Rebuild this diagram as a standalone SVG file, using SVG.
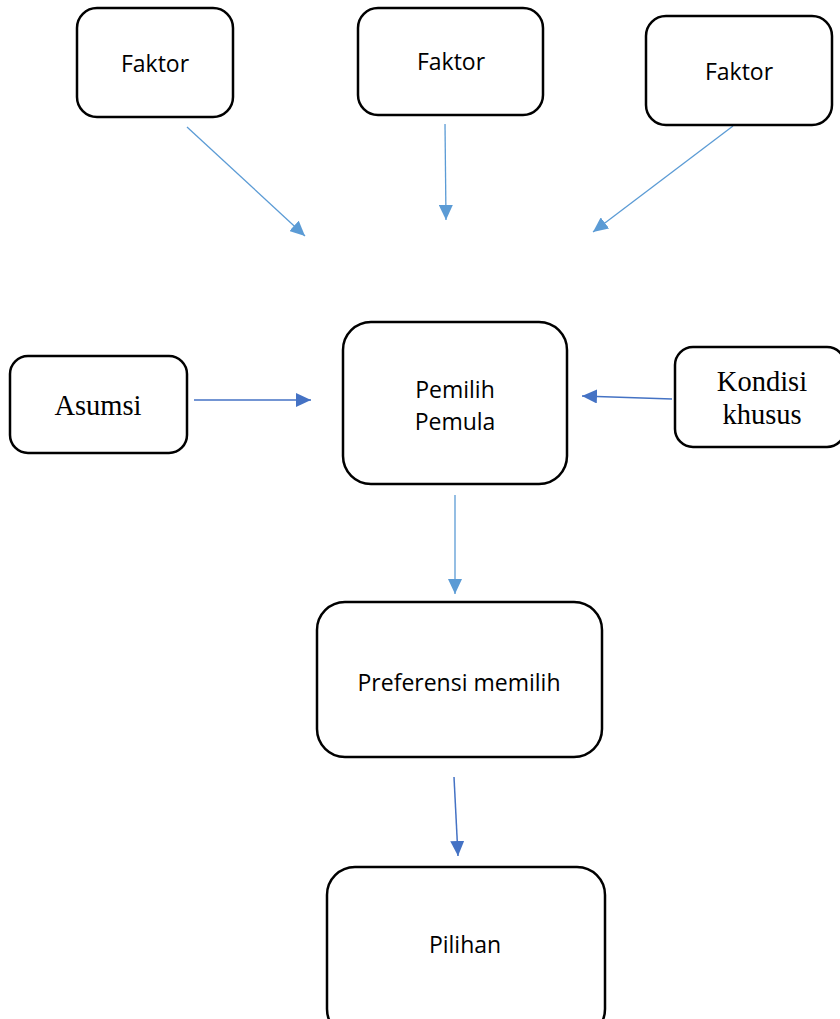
<svg xmlns="http://www.w3.org/2000/svg" width="840" height="1019" viewBox="0 0 840 1019">
<style>
.box{fill:#fff;stroke:#000;stroke-width:2.5}
.s{font-family:"Open Sans","Liberation Sans",Arial,sans-serif;font-size:23px;fill:#000;text-anchor:middle}
.t{font-family:"Liberation Serif","Times New Roman",serif;font-size:28.5px;fill:#000;text-anchor:middle}
.c1{stroke:#5B9BD5;stroke-width:1.3;fill:none}
.c2{stroke:#4472C4;stroke-width:1.5;fill:none}
</style>
<defs>
<marker id="a1" markerUnits="userSpaceOnUse" markerWidth="16" markerHeight="14" refX="15" refY="7" orient="auto"><path d="M0,0 L15,7 L0,14 Z" fill="#5B9BD5"/></marker>
<marker id="a2" markerUnits="userSpaceOnUse" markerWidth="16" markerHeight="14" refX="15" refY="7" orient="auto"><path d="M0,0 L15,7 L0,14 Z" fill="#4472C4"/></marker>
</defs>
<rect width="840" height="1019" fill="#fff"/>
<g id="connectors">
<line class="c1" x1="187" y1="127" x2="305" y2="236" marker-end="url(#a1)"/>
<line class="c1" x1="445" y1="124" x2="446" y2="220" marker-end="url(#a1)"/>
<line class="c1" x1="733" y1="126" x2="593" y2="232" marker-end="url(#a1)"/>
<line class="c2" x1="194" y1="400" x2="311" y2="400" marker-end="url(#a2)"/>
<line class="c2" x1="672" y1="399" x2="582" y2="396" marker-end="url(#a2)"/>
<line class="c1" x1="455" y1="495" x2="455" y2="594" marker-end="url(#a1)"/>
<line class="c2" x1="454" y1="777" x2="458" y2="856" marker-end="url(#a2)"/>
</g>
<g id="faktor1"><rect class="box" x="77" y="8" width="156" height="109" rx="20"/><text class="s" x="155" y="72">Faktor</text></g>
<g id="faktor2"><rect class="box" x="358" y="8" width="185" height="107" rx="20"/><text class="s" x="451" y="70">Faktor</text></g>
<g id="faktor3"><rect class="box" x="646" y="16" width="186" height="109" rx="20"/><text class="s" x="739" y="80">Faktor</text></g>
<g id="asumsi"><rect class="box" x="10" y="356" width="177" height="97" rx="18"/><text class="t" x="98" y="415">Asumsi</text></g>
<g id="pemilih"><rect class="box" x="343" y="322" width="224" height="162" rx="28"/><text class="s" x="455" y="398">Pemilih</text><text class="s" x="455" y="430">Pemula</text></g>
<g id="kondisi"><rect class="box" x="675" y="347" width="170" height="100" rx="18"/><text class="t" x="762" y="391">Kondisi</text><text class="t" x="762" y="424">khusus</text></g>
<g id="preferensi"><rect class="box" x="317" y="602" width="285" height="155" rx="28"/><text class="s" x="459" y="691">Preferensi memilih</text></g>
<g id="pilihan"><rect class="box" x="327" y="867" width="278" height="170" rx="28"/><text class="s" x="465" y="953">Pilihan</text></g>
</svg>
